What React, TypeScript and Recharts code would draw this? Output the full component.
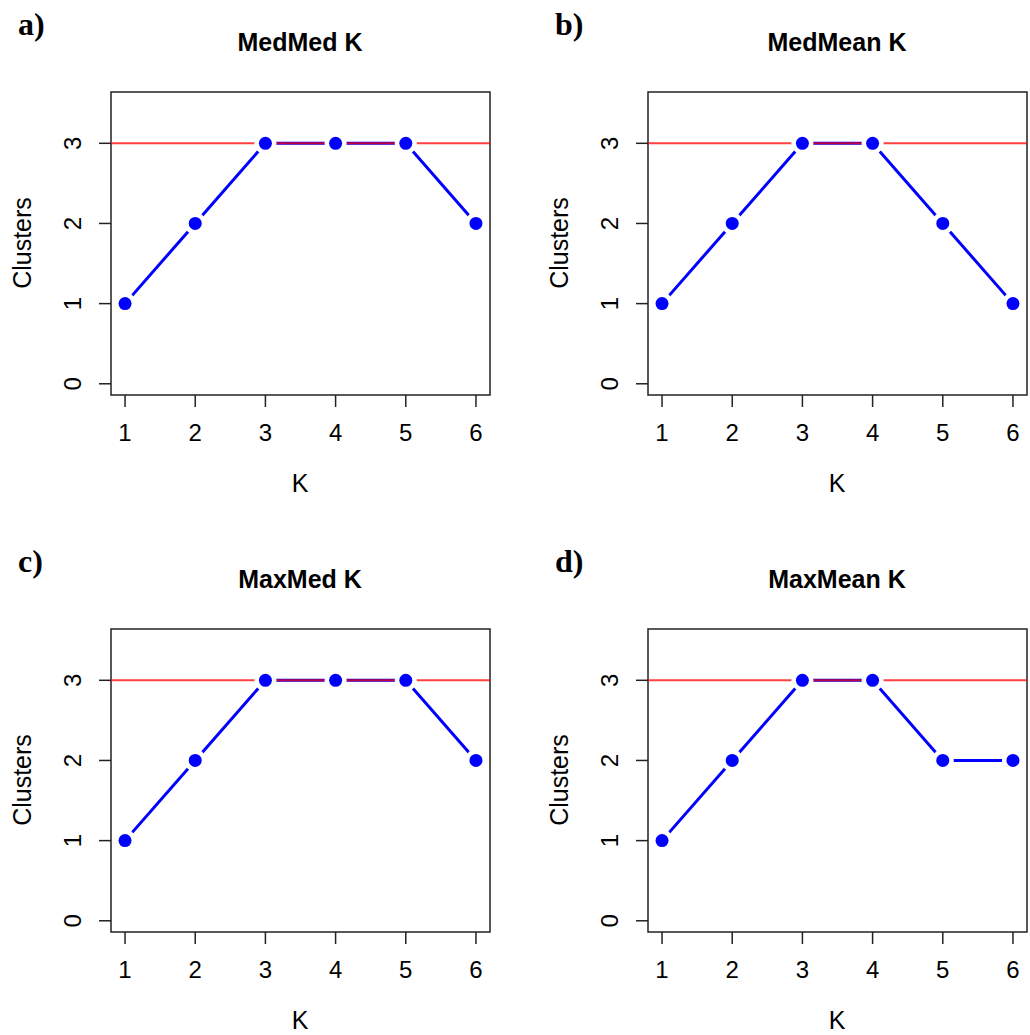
import { LineChart, Line, XAxis, YAxis, ReferenceLine, ReferenceArea } from 'recharts'

const kValues = [1, 2, 3, 4, 5, 6]
const medMed = [1, 2, 3, 3, 3, 2]
const medMean = [1, 2, 3, 3, 2, 1]
const maxMed = [1, 2, 3, 3, 3, 2]
const maxMean = [1, 2, 3, 3, 2, 2]
const trueClusters = 3

const xTicks = [1, 2, 3, 4, 5, 6]
const yTicks = [0, 1, 2, 3]

const panels = [
  { tag: 'a)', title: 'MedMed K', values: medMed, left: 0, top: 0 },
  { tag: 'b)', title: 'MedMean K', values: medMean, left: 537, top: 0 },
  { tag: 'c)', title: 'MaxMed K', values: maxMed, left: 0, top: 537 },
  { tag: 'd)', title: 'MaxMean K', values: maxMean, left: 537, top: 537 },
]

const FONT = '"Liberation Sans", Arial, Helvetica, sans-serif'
const BLUE = '#0000ff'

function YTick({ x, y, payload }: any) {
  return (
    <text
      x={x - 18}
      y={y}
      transform={`rotate(-90, ${x - 18}, ${y})`}
      textAnchor="middle"
      fontSize={24}
      fontFamily={FONT}
      fill="#000"
    >
      {payload.value}
    </text>
  )
}

// white disc under each point so the line stops short of it, like R's type="b"
function Halo({ cx, cy }: any) {
  return <circle cx={cx} cy={cy} r={11} fill="#fff" stroke="none" />
}

function Point({ cx, cy }: any) {
  return <circle cx={cx} cy={cy} r={6.5} fill={BLUE} stroke="none" />
}

function Panel({ tag, title, values }: { tag: string; title: string; values: number[] }) {
  const data = kValues.map((k, i) => ({ k, clusters: values[i] }))
  return (
    <div style={{ position: 'relative', width: 520, height: 520 }}>
      <LineChart width={520} height={520} data={data} margin={{ top: 92, right: 30, left: 0, bottom: 0 }}>
        <XAxis
          dataKey="k"
          type="number"
          domain={[0.8, 6.2]}
          ticks={xTicks}
          allowDataOverflow
          height={125}
          axisLine={false}
          tickLine={{ stroke: '#222', strokeWidth: 1.5 }}
          tickSize={12}
          tickMargin={17}
          tick={{ fill: '#000', fontSize: 24, fontFamily: FONT }}
        />
        <YAxis
          type="number"
          domain={[-0.14, 3.64]}
          ticks={yTicks}
          allowDataOverflow
          width={111}
          axisLine={false}
          tickLine={{ stroke: '#222', strokeWidth: 1.5 }}
          tickSize={12}
          tickMargin={0}
          tick={<YTick />}
        />
        <ReferenceArea
          x1={0.8}
          x2={6.2}
          y1={-0.14}
          y2={3.64}
          fill="none"
          fillOpacity={0}
          stroke="#222"
          strokeWidth={1.5}
          ifOverflow="visible"
        />
        <Line
          dataKey="clusters"
          type="linear"
          stroke={BLUE}
          strokeWidth={3}
          dot={false}
          activeDot={false}
          isAnimationActive={false}
          zIndex={400}
        />
        <Line
          dataKey="clusters"
          type="linear"
          stroke="none"
          strokeWidth={0}
          dot={<Halo />}
          activeDot={false}
          isAnimationActive={false}
          zIndex={401}
        />
        <ReferenceLine
          y={trueClusters}
          stroke="#ff0000"
          strokeOpacity={0.75}
          strokeWidth={2}
          ifOverflow="visible"
          zIndex={402}
        />
        <Line
          dataKey="clusters"
          type="linear"
          stroke="none"
          strokeWidth={0}
          dot={<Point />}
          activeDot={false}
          isAnimationActive={false}
          zIndex={403}
        />
      </LineChart>
      <div
        style={{
          position: 'absolute', left: 18, top: 6, fontFamily: '"Liberation Serif", "Times New Roman", serif',
          fontWeight: 700, fontSize: 32, lineHeight: '36px', color: '#000',
        }}
      >
        {tag}
      </div>
      <div
        style={{
          position: 'absolute', left: 300, top: 42, transform: 'translate(-50%, -50%)', whiteSpace: 'nowrap',
          fontFamily: FONT, fontWeight: 700, fontSize: 25, lineHeight: 1, color: '#000',
        }}
      >
        {title}
      </div>
      <div
        style={{
          position: 'absolute', left: 300, top: 483, transform: 'translate(-50%, -50%)', whiteSpace: 'nowrap',
          fontFamily: FONT, fontSize: 25, lineHeight: 1, color: '#000',
        }}
      >
        K
      </div>
      <div
        style={{
          position: 'absolute', left: 22, top: 243, transform: 'translate(-50%, -50%) rotate(-90deg)', whiteSpace: 'nowrap',
          fontFamily: FONT, fontSize: 25, lineHeight: 1, color: '#000',
        }}
      >
        Clusters
      </div>
    </div>
  )
}

export default function App() {
  return (
    <div style={{ position: 'absolute', left: 0, top: 0, width: 1030, height: 1035, overflow: 'hidden', background: '#fff' }}>
      {panels.map((p) => (
        <div key={p.tag} style={{ position: 'absolute', left: p.left, top: p.top }}>
          <Panel tag={p.tag} title={p.title} values={p.values} />
        </div>
      ))}
    </div>
  )
}
